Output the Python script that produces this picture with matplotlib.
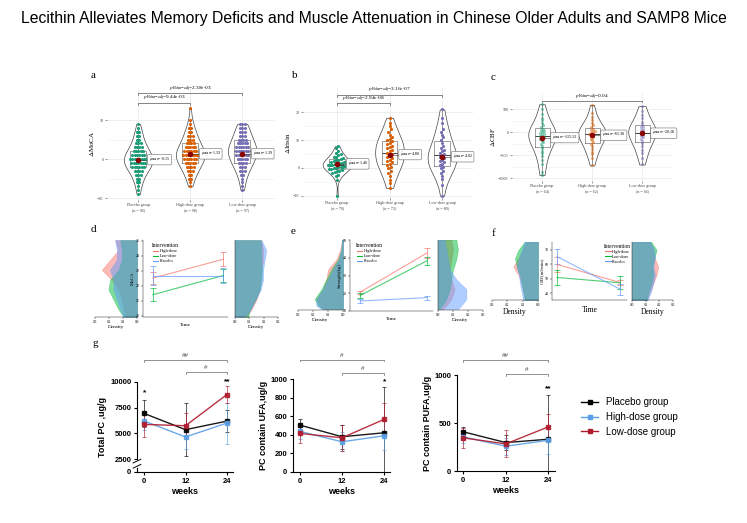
import numpy as np
import matplotlib
matplotlib.use('Agg')
import matplotlib.pyplot as plt
import matplotlib.transforms as mtransforms
from matplotlib.lines import Line2D

plt.rcParams['font.family'] = 'Liberation Serif'
plt.rcParams['mathtext.fontset'] = 'stix'

W, H = 747, 523

# ---- panel a: change in MoCA (integer values, counts per value) ----
groups = ['Placebo group', 'High-dose group', 'Low-dose group']
moca_values = list(range(-9, 14))
moca_counts_placebo = [1, 1, 1, 2, 2, 3, 4, 6, 7, 8, 6, 5, 4, 3, 2, 2, 2, 1, 1, 0, 0, 0, 0]
moca_counts_high = [0, 0, 1, 1, 2, 2, 3, 4, 5, 6, 7, 6, 5, 4, 3, 3, 2, 2, 1, 1, 0, 0, 1]
moca_counts_low = [0, 1, 1, 1, 1, 2, 3, 3, 4, 5, 6, 6, 6, 5, 4, 3, 3, 3, 3, 0, 0, 0, 0]
moca_means = [-0.15, 1.33, 1.39]
moca_n = [96, 98, 97]

# ---- panel b: change in irisin ----
irisin_placebo = [-10, -4.5, -3, -2.5, -2, -1.5, -1.2, -1, -0.8, -0.5, -0.3, 0, 0, 0.2, 0.4,
                  0.5, 0.7, 0.9, 1, 1.1, 1.3, 1.5, 1.6, 1.8, 2, 2.1, 2.3, 2.5, 2.8, 3, 3.2,
                  3.5, 3.8, 4, 4.5, 5, 5.5, 6, 7, 7.8]
irisin_high = [-7.2, -5.5, -4.5, -3, -2, -1, 0, 0.5, 1, 1.5, 2, 2.5, 3, 3.5, 4, 4.5, 5, 5.5,
               6, 6.5, 7, 7.5, 8, 8.5, 9, 9.5, 10, 10.5, 11, 12, 13, 14, 15, 16, 18]
irisin_low = [-10, -6, -4, -3, -2, -1, 0, 0.5, 1, 1.5, 2, 2.5, 3, 3.5, 4, 4.5, 5, 5.5, 6,
              6.5, 7, 8, 9, 10, 11, 12, 13, 14, 16, 18, 21]
irisin_means = [1.46, 4.80, 4.02]
irisin_n = [70, 72, 80]

# ---- panel c: change in CBF ----
cbf_placebo = [-930, -870, -700, -600, -520, -450, -400, -350, -300, -260, -220, -180, -150,
               -120, -100, -80, -60, -40, -20, 0, 20, 50, 80, 110, 150, 200, 260, 320, 400,
               500, 610]
cbf_high = [-720, -560, -480, -420, -360, -300, -250, -210, -170, -140, -110, -80, -50, -30,
            -10, 10, 30, 50, 80, 110, 150, 200, 260, 330, 420, 595]
cbf_low = [-700, -550, -450, -380, -300, -240, -190, -150, -110, -70, -40, -10, 20, 50, 80,
           110, 140, 180, 230, 300, 380, 470, 570]
cbf_means = [-115.13, -65.30, -20.18]
cbf_n = [64, 62, 66]

# ---- panels d, e, f: group means over time + density profiles ----
interventions = ['High-dose', 'Low-dose', 'Placebo']
time_points = [0, 1]

d_means = [[22.5, 23.76], [21.39, 22.67], [22.67, 22.67]]
d_errs = [[0.39, 0.46], [0.45, 0.44], [0.62, 0.5]]
d_ygrid = [25.04, 24.38, 23.72, 23.05, 22.39, 21.73, 21.06, 20.40, 19.91]
d_dens_left = [[0.156, 0.132, 0.192, 0.252, 0.18, 0.132, 0.108, 0.096, 0.084],
               [0.12, 0.108, 0.108, 0.132, 0.192, 0.204, 0.168, 0.132, 0.096],
               [0.156, 0.144, 0.144, 0.192, 0.168, 0.168, 0.144, 0.12, 0.096]]
d_dens_right = [[0.184, 0.196, 0.196, 0.184, 0.179, 0.173, 0.15, 0.115, 0.08],
                [0.179, 0.184, 0.184, 0.189, 0.184, 0.173, 0.143, 0.104, 0.092],
                [0.184, 0.219, 0.207, 0.196, 0.196, 0.179, 0.143, 0.11, 0.069]]

e_means = [[20.5, 42.8], [18.6, 38.4], [15.5, 17.4]]
e_errs = [[0.9, 2.7], [1.3, 2.2], [1.2, 1.1]]
e_ygrid = [50.4, 44.7, 39.0, 33.2, 27.5, 21.8, 16.1, 12.3, 10.4]
e_dens_left = [[0.007, 0.018, 0.044, 0.1, 0.111, 0.133, 0.178, 0.155, 0.133],
               [0.007, 0.011, 0.033, 0.078, 0.111, 0.144, 0.189, 0.167, 0.133],
               [0.007, 0.011, 0.027, 0.067, 0.1, 0.133, 0.178, 0.178, 0.144]]
e_dens_right = [[0.089, 0.1, 0.089, 0.078, 0.089, 0.111, 0.089, 0.056, 0.033],
                [0.122, 0.133, 0.122, 0.1, 0.089, 0.078, 0.056, 0.027, 0.011],
                [0.044, 0.056, 0.067, 0.078, 0.122, 0.189, 0.189, 0.155, 0.133]]

f_means = [[60.0, 47.5], [51.0, 47.3], [65.4, 42.9]]
f_errs = [[5.0, 1.7], [5.0, 4.5], [5.3, 3.8]]
f_ygrid = [75.8, 70, 64.2, 58.5, 52.7, 46.9, 41.1, 35.4]
f_dens_left = [[0.075, 0.096, 0.128, 0.161, 0.128, 0.107, 0.096, 0.086],
               [0.086, 0.128, 0.15, 0.139, 0.118, 0.107, 0.096, 0.086],
               [0.086, 0.107, 0.124, 0.139, 0.124, 0.118, 0.107, 0.096]]
f_dens_right = [[0.132, 0.156, 0.168, 0.192, 0.18, 0.156, 0.132, 0.108],
                [0.139, 0.18, 0.163, 0.149, 0.156, 0.144, 0.12, 0.108],
                [0.132, 0.163, 0.168, 0.156, 0.168, 0.156, 0.139, 0.115]]

# ---- panel g: PC levels in mice (mean, sd) ----
weeks = [0, 12, 24]
g_labels = ['Placebo group', 'High-dose group', 'Low-dose group']
total_pc = [[6935, 5355, 6190], [6200, 4645, 6000], [5870, 5740, 8770]]
total_pc_sd = [[1300, 2600, 1050], [900, 1200, 2000], [1200, 1250, 800]]
ufa_pc = [[505, 379, 422], [437, 325, 390], [415, 368, 567]]
ufa_pc_sd = [[60, 130, 490], [80, 100, 155], [100, 140, 175]]
pufa_pc = [[408, 296, 331], [355, 258, 320], [345, 282, 460]]
pufa_pc_sd = [[55, 77, 460], [60, 88, 140], [105, 140, 130]]

swarm_colors = ['#1b9e77', '#d95f02', '#7570b3']
interv_colors = ['#F8766D', '#00BA38', '#619CFF']
g_colors = ['#000000', '#5aa0e6', '#b01c2e']


def px(l, t, r, b):
    return [l / W, 1 - b / H, (r - l) / W, (b - t) / H]


def swarm_x(vals, center, step, dx):
    vals = np.asarray(vals, float)
    bins = np.round(vals / step)
    xs = np.zeros(len(vals))
    for b in np.unique(bins):
        idx = np.where(bins == b)[0]
        xs[idx] = center + (np.arange(len(idx)) - (len(idx) - 1) / 2) * dx
    return xs


fig = plt.figure(figsize=(W / 100, H / 100), dpi=100)
fig.text(0.5, 1 - 18 / H,
         'Lecithin Alleviates Memory Deficits and Muscle Attenuation in Chinese Older Adults and SAMP8 Mice',
         ha='center', va='center', fontsize=11.3, family='Liberation Sans')


def top_panel(rect, data, means, ns, xlim, ylim, major, minor, ylabel, brackets,
              label_dx, step, dx, pt_alpha, bw, dec=2):
    ax = fig.add_axes(px(*rect))
    pos = [1, 2, 3]
    ax.set_xlim(xlim)
    ax.set_ylim(ylim)
    ax.set_yticks(major)
    ax.set_yticks(minor, minor=True)
    ax.grid(True, which='major', color='#e8e8e8', lw=0.5)
    ax.grid(True, which='minor', axis='y', color='#f0f0f0', lw=0.4)
    ax.set_axisbelow(True)
    for s in ax.spines.values():
        s.set_visible(False)
    ax.tick_params(length=1.5, width=0.4, labelsize=3, pad=1, colors='#444')
    ax.tick_params(which='minor', length=0)
    parts = ax.violinplot(data, positions=pos, widths=0.55, showextrema=False, bw_method=bw)
    for body in parts['bodies']:
        body.set_facecolor('white')
        body.set_edgecolor('#444444')
        body.set_linewidth(0.5)
        body.set_alpha(1)
        body.set_zorder(1)
    ax.boxplot(data, positions=pos, widths=0.3, showfliers=False, showcaps=False,
               boxprops=dict(color='#555555', linewidth=0.4),
               whiskerprops=dict(color='#444444', linewidth=0.4),
               medianprops=dict(color='#222222', linewidth=0.6))
    for i, vals in enumerate(data):
        xs = swarm_x(vals, pos[i], step, dx)
        ax.scatter(xs, vals, s=5, color=swarm_colors[i], alpha=pt_alpha, lw=0, zorder=3)
    ax.scatter(pos, means, s=16, color='#8b0000', zorder=6, lw=0)
    for p, m in zip(pos, means):
        ax.plot([p, p + label_dx], [m, m], color='#333333', lw=0.4, zorder=5)
        ax.text(p + label_dx, m, r'$\hat{\mu}_{\mathrm{mean}}$=' + f'{m:.{dec}f}', fontsize=3,
                va='center', ha='left', zorder=7,
                bbox=dict(boxstyle='round,pad=0.3', fc='white', ec='#666666', lw=0.4))
    ax.set_xticks(pos, [f'{g}\n(n = {n})' for g, n in zip(groups, ns)])
    ax.set_xlabel('')
    ax.set_ylabel(ylabel, fontsize=5, labelpad=1)
    h = 0.015 * (ylim[1] - ylim[0])
    for x1, x2, y, txt in brackets:
        ax.plot([x1, x1, x2, x2], [y - h, y, y, y - h], color='#555555', lw=0.5, zorder=2)
        ax.text((x1 + x2) / 2, y + h * 0.3, r'$p_{\mathrm{Holm-adj}}$=' + txt,
                ha='center', va='bottom', fontsize=3.8)
    return ax


moca_data = []
for counts in [moca_counts_placebo, moca_counts_high, moca_counts_low]:
    moca_data.append(np.repeat(moca_values, counts))

top_panel((107, 88, 275, 200), moca_data, moca_means, moca_n, (0.40, 3.63), (-10.5, 18.2),
          [-10, 0, 10], [-5, 5], r'$\Delta$MoCA',
          [(1, 3, 16.9, '2.38e-03'), (1, 2, 14.4, '9.44e-03')], 0.2, 1, 0.045, 1, 0.45)
top_panel((303, 88, 473, 198), [irisin_placebo, irisin_high, irisin_low], irisin_means,
          irisin_n, (0.35, 3.59), (-10.8, 28.7), [-10, 0, 10, 20], [-5, 5, 15],
          r'$\Delta$Irisin', [(1, 3, 26.2, '3.16e-07'), (1, 2, 23.2, '2.94e-08')],
          0.2, 1.5, 0.045, 1, 0.5)
top_panel((512, 93, 672, 181), [cbf_placebo, cbf_high, cbf_low], cbf_means, cbf_n,
          (0.4, 3.6), (-1059, 854), [-1000, -500, 0, 500], [-750, -250, 250],
          r'$\Delta$CBF', [(1, 3, 680, '0.04')], 0.2, 60, 0.045, 0.5, 0.5)


def trend_panel(rects, ygrid, dens_left, dens_right, means, errs, ylim, yticks, xlim,
                ylabel, leg_kw, lab_fs):
    axl = fig.add_axes(px(*rects[0]))
    axm = fig.add_axes(px(*rects[1]))
    axr = fig.add_axes(px(*rects[2]))
    for ax, dens in [(axl, dens_left), (axr, dens_right)]:
        for d, c in zip(dens, interv_colors):
            ax.fill_betweenx(ygrid, 0, d, facecolor=c, alpha=0.5, edgecolor=c, lw=0.4)
        ax.set_ylim(ylim)
        ax.set_yticks([])
        ax.set_xticks([0, 0.1, 0.2, 0.3], ['0.0', '0.1', '0.2', '0.3'])
        ax.tick_params(labelsize=2.5, length=1.2, width=0.3, pad=1)
        ax.set_xlabel('Density', fontsize=lab_fs, labelpad=1)
        for s in ['top', 'right', 'left']:
            ax.spines[s].set_visible(False)
        ax.spines['bottom'].set_linewidth(0.3)
    axl.set_xlim(0.3, 0)
    axr.set_xlim(0, 0.3)
    axr.spines['left'].set_visible(True)
    axr.spines['left'].set_linewidth(0.3)

    for m, e, c in zip(means, errs, interv_colors):
        axm.errorbar(time_points, m, yerr=e, color=c, alpha=0.7, lw=0.8,
                     capsize=2.5, capthick=0.7, elinewidth=0.7)
    axm.set_xlim(xlim)
    axm.set_ylim(ylim)
    axm.set_yticks(yticks)
    axm.set_xticks([])
    axm.tick_params(labelsize=2.8, length=1.2, width=0.3, pad=1)
    axm.set_xlabel('Time', fontsize=lab_fs, labelpad=4)
    axm.set_ylabel(ylabel, fontsize=3.5, labelpad=1)
    for s in ['top', 'right']:
        axm.spines[s].set_visible(False)
    for s in ['left', 'bottom']:
        axm.spines[s].set_linewidth(0.3)
    handles = [Line2D([], [], color=c, lw=0.8) for c in interv_colors]
    axm.legend(handles, interventions, title='Intervention', fontsize=3.2, title_fontsize=4,
               frameon=False, handlelength=1.2, handletextpad=0.4, labelspacing=0.2,
               borderaxespad=0, **leg_kw)


trend_panel([(95, 240, 137, 317), (143, 240, 228, 317), (235, 240, 278, 317)],
            d_ygrid, d_dens_left, d_dens_right, d_means, d_errs, (19.9, 25.05),
            [20, 21, 22, 23, 24, 25], (-0.14, 1.07), 'MoCA',
            dict(loc='upper left', bbox_to_anchor=(0.08, 0.98)), 3.8)
trend_panel([(298, 240, 343, 310), (350, 240, 433, 311), (438, 240, 483, 310)],
            e_ygrid, e_dens_left, e_dens_right, e_means, e_errs, (9.8, 50.2),
            [10, 20, 30, 40, 50], (-0.15, 1.09), 'Strength(kg)',
            dict(loc='upper left', bbox_to_anchor=(0.05, 0.98)), 3.8)
trend_panel([(492, 242, 538, 300), (552, 242, 627, 300), (632, 242, 673, 300)],
            f_ygrid, f_dens_left, f_dens_right, f_means, f_errs, (35.4, 75.5),
            [40, 50, 60, 70], (-0.08, 1.11), 'CBF(ml/min)',
            dict(loc='upper right', bbox_to_anchor=(1.08, 1.0)), 5.5)


def fwd(v):
    v = np.asarray(v, float)
    return np.where(v <= 2500, v * 13 / 2500, 13 + (v - 2500) * 77 / 7500)


def inv(u):
    u = np.asarray(u, float)
    return np.where(u <= 13, u * 2500 / 13, 2500 + (u - 13) * 7500 / 77)


def g_panel(rect, series, sds, xlim, ylim, yticks, ylabel, brackets, stars, broken=False):
    ax = fig.add_axes(px(*rect))
    if broken:
        ax.set_yscale('function', functions=(fwd, inv))
    for vals, sd, c, lab in zip(series, sds, g_colors, g_labels):
        ax.errorbar(weeks, vals, yerr=sd, color=c, ecolor=c, elinewidth=0.5, capsize=1.5,
                    capthick=0.5, lw=1.0, marker='s', ms=2.2, label=lab, alpha=0.9)
    ax.set_xlim(xlim)
    ax.set_ylim(ylim)
    ax.set_xticks(weeks)
    ax.set_yticks(yticks)
    ax.yaxis.set_minor_locator(matplotlib.ticker.NullLocator())
    for s in ['top', 'right']:
        ax.spines[s].set_visible(False)
    for s in ['left', 'bottom']:
        ax.spines[s].set_linewidth(0.8)
    ax.tick_params(labelsize=5.5, length=2.5, width=0.8, pad=1.5)
    for lab in ax.get_xticklabels() + ax.get_yticklabels():
        lab.set_fontweight('bold')
        lab.set_family('Liberation Sans')
    ax.set_xlabel('weeks', fontsize=6.5, fontweight='bold', family='Liberation Sans', labelpad=2)
    ax.set_ylabel(ylabel, fontsize=6.5, fontweight='bold', family='Liberation Sans', labelpad=2)
    trans = mtransforms.blended_transform_factory(ax.transData, ax.transAxes)
    for x1, x2, y, txt in brackets:
        ax.plot([x1, x1, x2, x2], [y - 0.02, y, y, y - 0.02], color='#666666', lw=0.5,
                transform=trans, clip_on=False)
        ax.text((x1 + x2) / 2, y + 0.02, txt, ha='center', va='bottom', fontsize=4.5,
                color='#444444', transform=trans, family='Liberation Sans')
    for x, y, txt in stars:
        ax.text(x, y, txt, ha='center', va='center', fontsize=6, fontweight='bold',
                transform=trans, family='Liberation Sans')
    if broken:
        tr = mtransforms.blended_transform_factory(ax.transAxes, ax.transData)
        ax.plot([0, 0], [1100, 2100], color='white', lw=2, transform=tr, clip_on=False,
                zorder=5)
        for yb in [1100, 2100]:
            ax.plot([-0.04, 0.04], [yb - 350, yb + 350], color='black', lw=0.7,
                    transform=tr, clip_on=False, zorder=6)
    return ax


g_panel((137, 382, 233, 472), total_pc, total_pc_sd, (-2.1, 25.8), (0, 10000),
        [0, 2500, 5000, 7500, 10000], 'Total PC ,ug/g',
        [(0, 24, 1.244, '##'), (12, 24, 1.111, '#')], [(0, 0.878, '*'), (24, 1.0, '**')],
        broken=True)
g_panel((293, 379, 390, 472), ufa_pc, ufa_pc_sd, (-1.9, 25.6), (0, 1000),
        [0, 200, 400, 600, 800, 1000], 'PC contain UFA,ug/g',
        [(0, 24, 1.209, '#'), (12, 24, 1.068, '#')], [(24, 0.97, '*')])
g_panel((457, 375, 555, 471), pufa_pc, pufa_pc_sd, (-1.8, 25.9), (0, 1000),
        [0, 500, 1000], 'PC contain PUFA,ug/g',
        [(0, 24, 1.153, '##'), (12, 24, 1.014, '#')], [(24, 0.852, '**')])

leg_handles = [Line2D([], [], color=c, marker='s', ms=2.5, lw=1.0) for c in g_colors]
fig.legend(leg_handles, g_labels, loc='center left', bbox_to_anchor=(572 / W, 1 - 417 / H),
           frameon=False, prop={'family': 'Liberation Sans', 'size': 7}, handlelength=1.8,
           labelspacing=0.5)

for letter, x, y in [('a', 93, 75), ('b', 295, 76), ('c', 493, 77), ('d', 93, 229),
                     ('e', 293, 231), ('f', 493, 233), ('g', 95, 343)]:
    fig.text(x / W, 1 - y / H, letter, fontsize=8, ha='center', va='center')

fig.savefig('out.png', dpi=100)
